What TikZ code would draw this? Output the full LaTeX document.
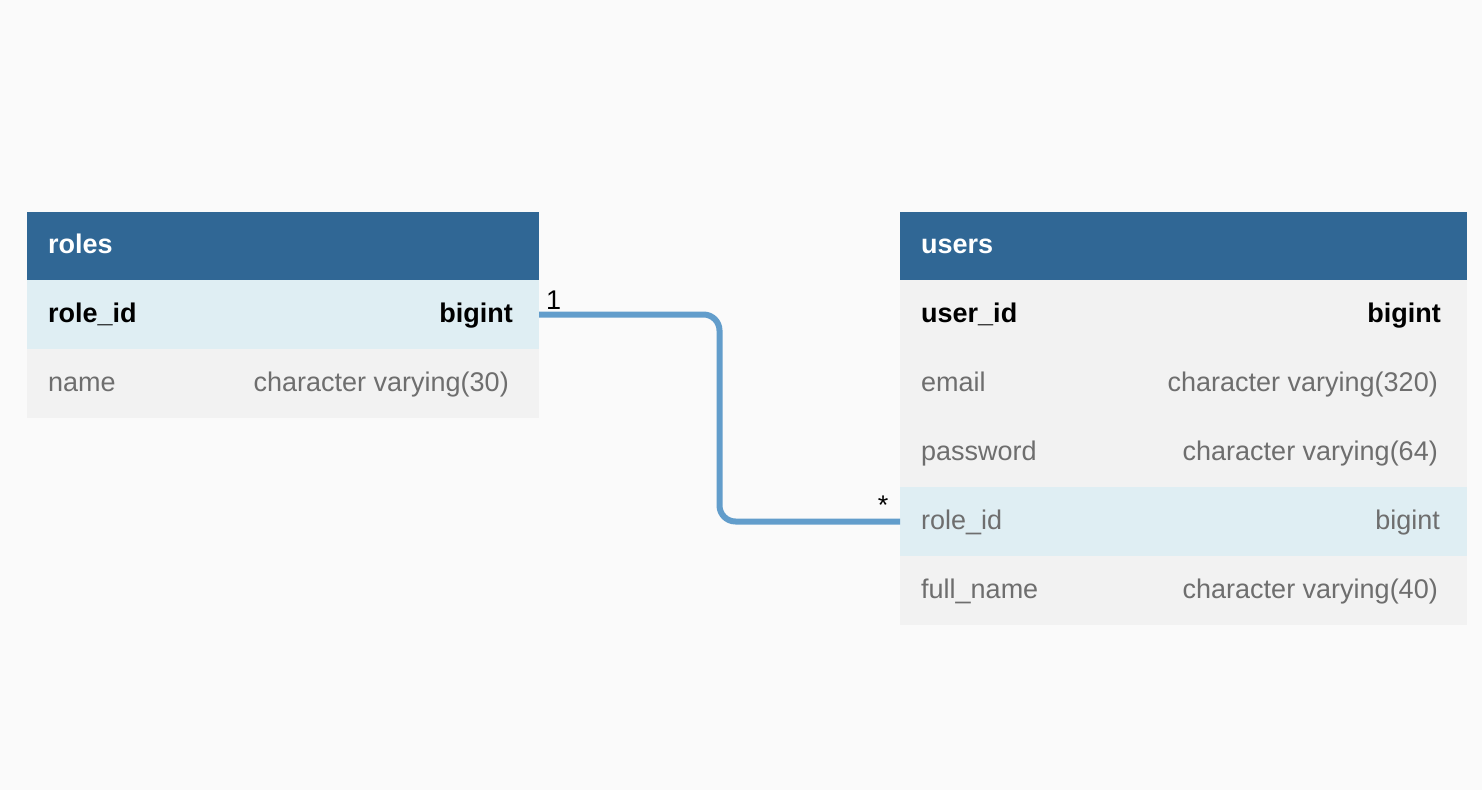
\documentclass[tikz,border=0pt]{standalone}
\usepackage{fontspec}
\setmainfont{Liberation Sans}
\usetikzlibrary{calc}
\definecolor{bg}{HTML}{FAFAFA}
\definecolor{hdr}{HTML}{306795}
\definecolor{keyrow}{HTML}{DFEEF3}
\definecolor{plainrow}{HTML}{F2F2F2}
\definecolor{link}{HTML}{629DCB}
\definecolor{muted}{HTML}{6E6E6E}
\begin{document}
\begin{tikzpicture}[x=1pt,y=-1pt,
  every node/.style={font=\fontsize{27}{32}\selectfont},
  rowbox/.style={draw=none, inner sep=0pt, outer sep=0pt, minimum height=69pt, anchor=north west},
  hdrbox/.style={rowbox, fill=hdr, minimum height=68pt},
  keybox/.style={rowbox, fill=keyrow},
  plainbox/.style={rowbox, fill=plainrow},
  lname/.style={inner sep=0pt, anchor=base west},
  ltype/.style={inner sep=0pt, anchor=base east},
  hdrtext/.style={lname, text=white, font=\fontsize{27}{32}\selectfont\bfseries},
  pktext/.style={text=black, font=\fontsize{27}{32}\selectfont\bfseries},
  coltext/.style={text=muted},
  conn/.style={draw=link, line width=6pt, rounded corners=16pt},
  card/.style={inner sep=0pt, anchor=base west, text=black}
]
\fill[bg] (0,0) rectangle (1482,790);
\useasboundingbox (0,0) rectangle (1482,790);

% roles table
\node[hdrbox, minimum width=512pt] (rh) at (27,212) {};
\node[keybox, minimum width=512pt] (r1) at (27,280) {};
\node[plainbox, minimum width=512pt] (r2) at (27,349) {};
\node[hdrtext] (rht) at ($(rh.west)+(21,7.5)$) {roles};
\node[lname, pktext] (r1n) at ($(r1.west)+(21,7.5)$) {role\_id};
\node[ltype, pktext] (r1t) at ($(r1.east)+(-26,7.5)$) {bigint};
\node[lname, coltext] (r2n) at ($(r2.west)+(21,7.5)$) {name};
\node[ltype, coltext] (r2t) at ($(r2.east)+(-30,7.5)$) {character varying(30)};

% users table
\node[hdrbox, minimum width=567pt] (uh) at (900,212) {};
\node[plainbox, minimum width=567pt] (u1) at (900,280) {};
\node[plainbox, minimum width=567pt] (u2) at (900,349) {};
\node[plainbox, minimum width=567pt] (u3) at (900,418) {};
\node[keybox, minimum width=567pt] (u4) at (900,487) {};
\node[plainbox, minimum width=567pt] (u5) at (900,556) {};
\node[hdrtext] (uht) at ($(uh.west)+(21,7.5)$) {users};
\node[lname, pktext] (u1n) at ($(u1.west)+(21,7.5)$) {user\_id};
\node[ltype, pktext] (u1t) at ($(u1.east)+(-26,7.5)$) {bigint};
\node[lname, coltext] (u2n) at ($(u2.west)+(21,7.5)$) {email};
\node[ltype, coltext] (u2t) at ($(u2.east)+(-29,7.5)$) {character varying(320)};
\node[lname, coltext] (u3n) at ($(u3.west)+(21,7.5)$) {password};
\node[ltype, coltext] (u3t) at ($(u3.east)+(-29,7.5)$) {character varying(64)};
\node[lname, coltext] (u4n) at ($(u4.west)+(21,7.5)$) {role\_id};
\node[ltype, coltext] (u4t) at ($(u4.east)+(-27,7.5)$) {bigint};
\node[lname, coltext] (u5n) at ($(u5.west)+(21,7.5)$) {full\_name};
\node[ltype, coltext] (u5t) at ($(u5.east)+(-29,7.5)$) {character varying(40)};

% relationship
\coordinate (mid) at ($(r1.east)!0.5!(u4.west)$);
\draw[conn] (r1.east) -| (mid) |- (u4.west);
\node[card] (c1) at (546,309) {1};
\node[card, anchor=base] (c2) at (883,514) {*};
\end{tikzpicture}
\end{document}
